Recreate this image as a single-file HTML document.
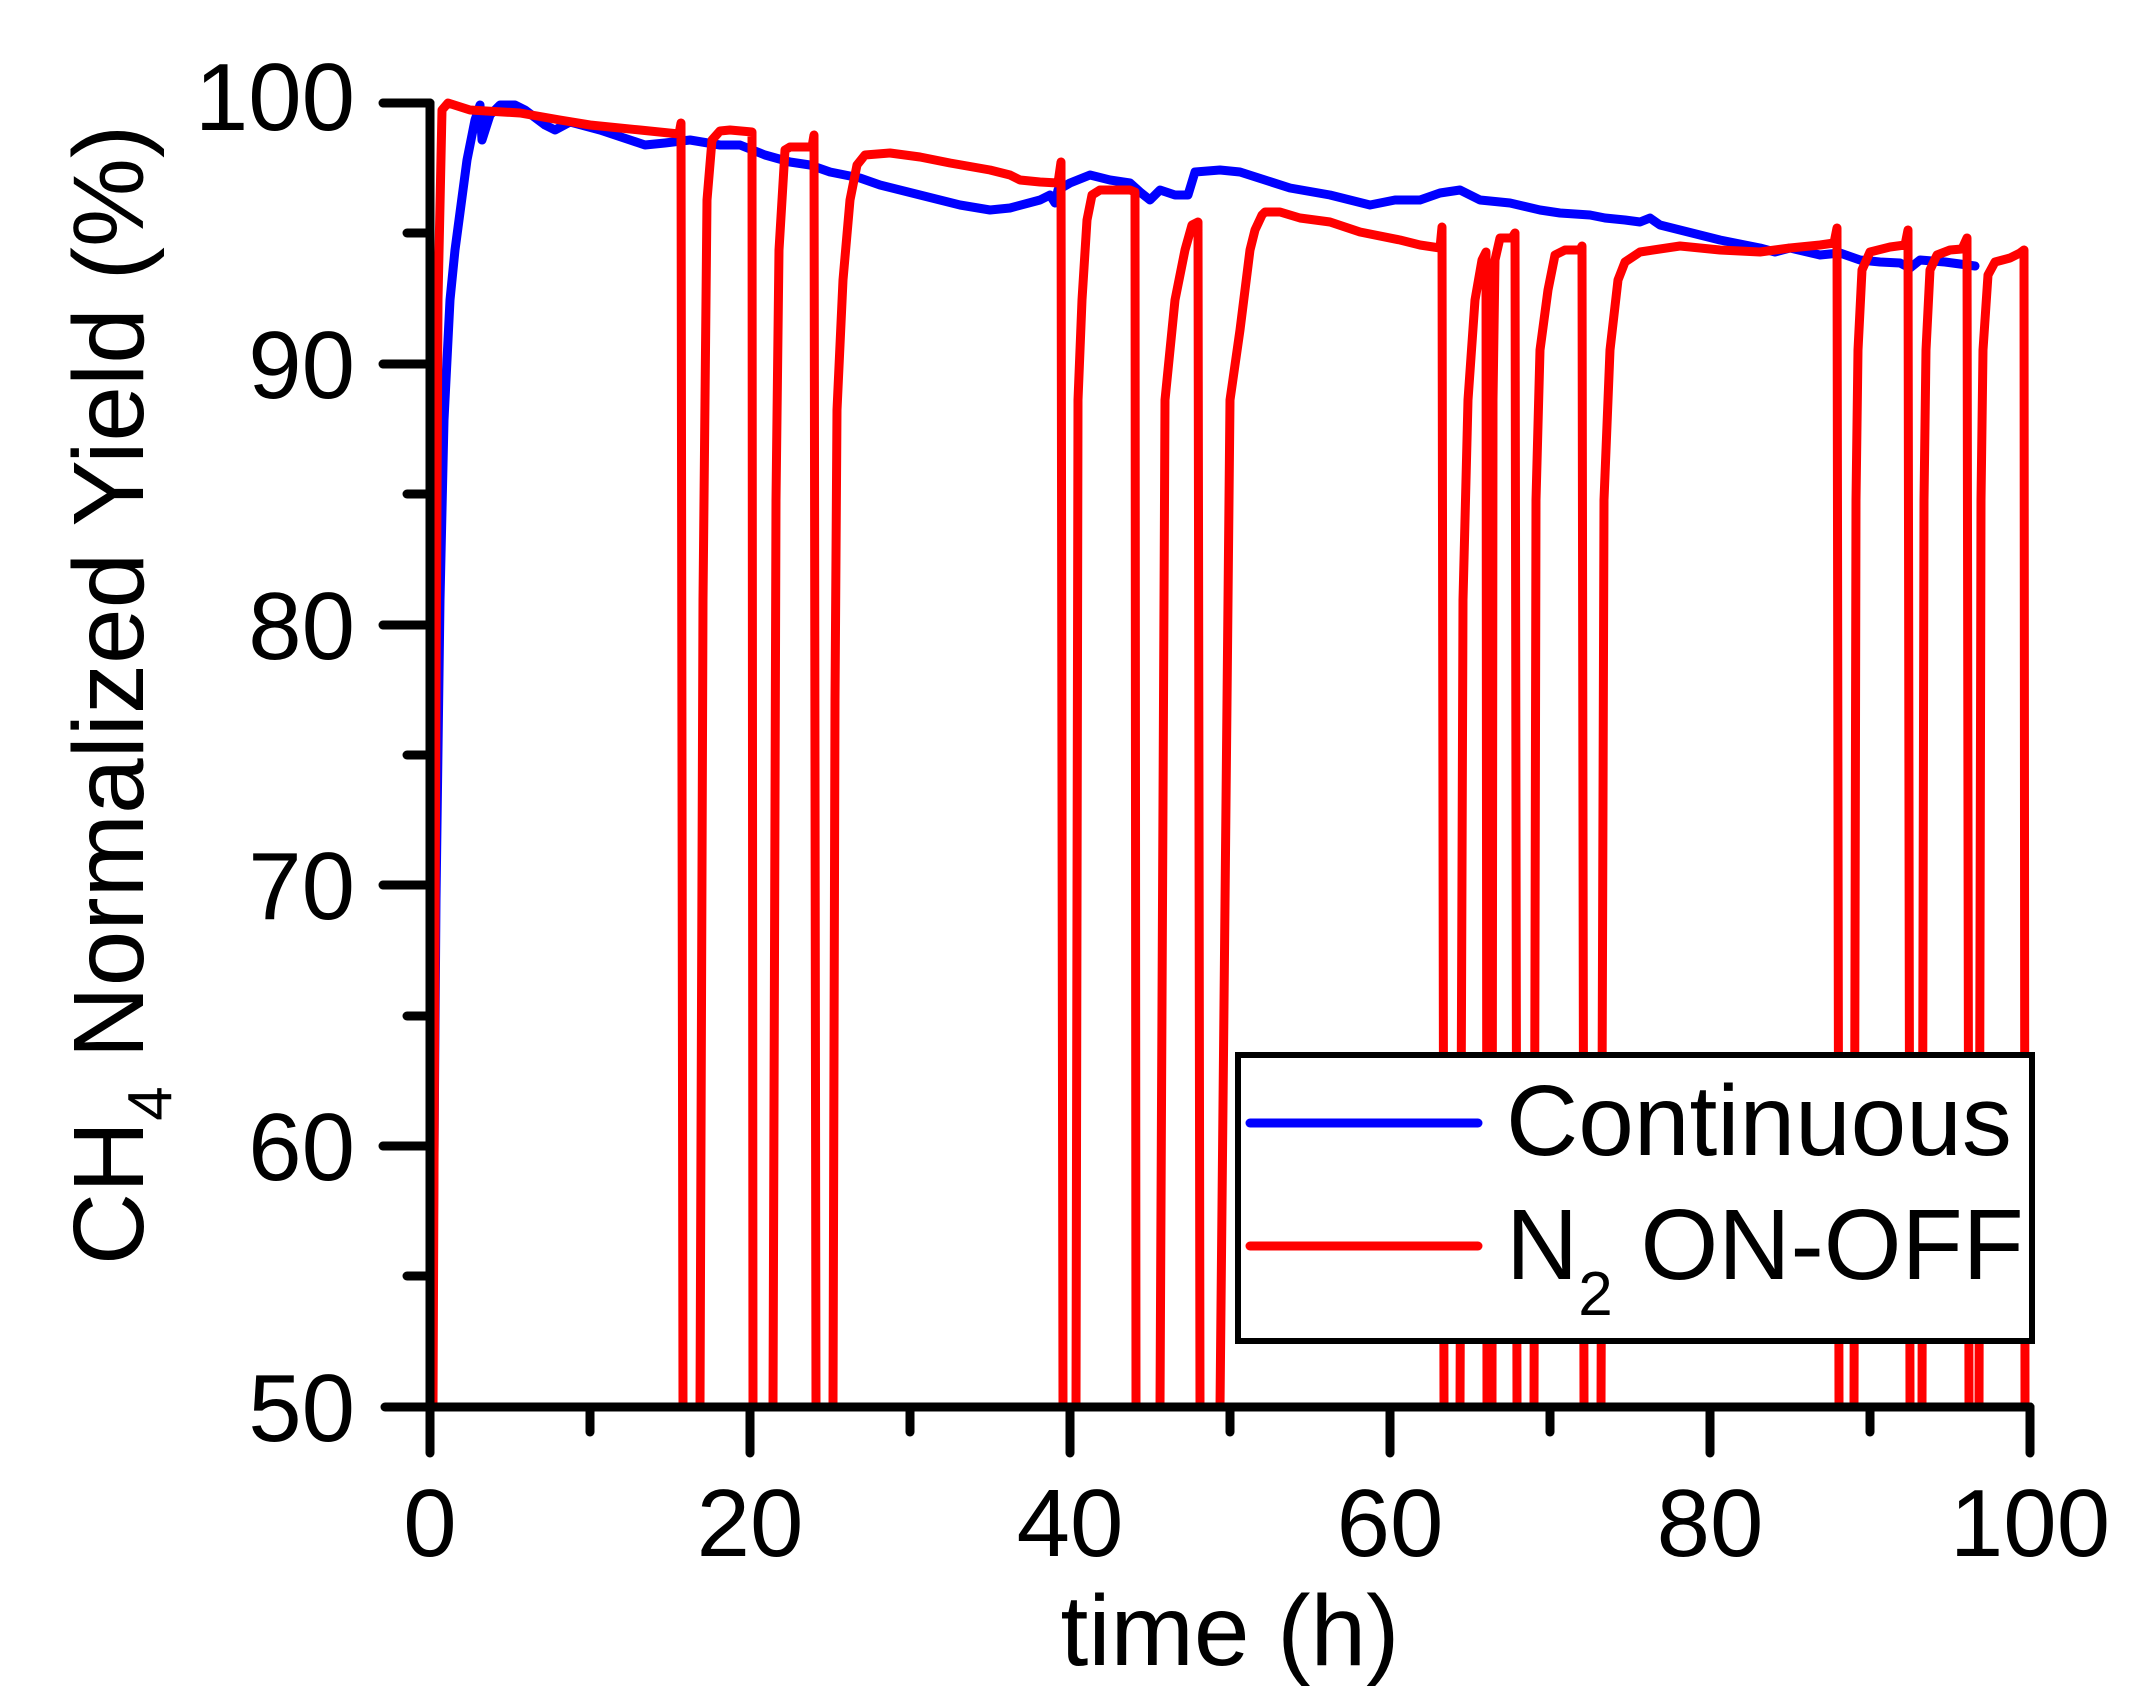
<!DOCTYPE html>
<html><head><meta charset="utf-8"><style>
html,body{margin:0;padding:0;background:#fff;}
svg{display:block;}
text{font-family:"Liberation Sans",Arial,sans-serif;fill:#000;}
</style></head><body>
<svg width="2144" height="1708" viewBox="0 0 2144 1708" xmlns="http://www.w3.org/2000/svg">
<rect width="2144" height="1708" fill="#fff"/>
<!-- blue series -->
<path fill="none" stroke="#0000ff" stroke-width="9" stroke-linejoin="round" stroke-linecap="round"
d="M432,1407 L436,900 L440,600 L444,420 L450,300 L455,250 L467,160 L475,120 L480,105 L482,140 L490,115 L500,105 L515,105 L525,110 L545,125 L555,130 L570,122 L600,130 L630,140 L645,145 L665,143 L690,140 L720,145 L740,145 L765,155 L790,162 L810,165 L830,172 L860,178 L880,185 L920,195 L960,205 L990,210 L1010,208 L1040,200 L1050,195 L1055,203 L1058,190 L1070,183 L1090,175 L1110,180 L1130,183 L1140,192 L1150,200 L1160,190 L1175,195 L1188,195 L1195,172 L1220,170 L1240,172 L1265,180 L1290,188 L1330,195 L1370,205 L1395,200 L1420,200 L1440,193 L1460,190 L1470,195 L1480,200 L1510,203 L1540,210 L1560,213 L1590,215 L1605,218 L1625,220 L1640,222 L1650,218 L1660,225 L1680,230 L1720,240 L1760,248 L1775,252 L1790,248 L1820,255 L1840,253 L1860,260 L1880,262 L1900,263 L1910,268 L1920,260 L1945,262 L1975,266"/>
<!-- red series -->
<path fill="none" stroke="#ff0000" stroke-width="9" stroke-linejoin="round" stroke-linecap="round"
d="M433,1407 L436,700 L438,300 L442,110 L448,103 L470,110 L520,113 L560,120 L590,125 L640,130 L679,134 L681,123 L683,1407
L700,1407 L703,600 L707,200 L712,140 L720,131 L730,130 L752,132 L753,1407
L773,1407 L776,500 L779,250 L785,150 L790,147 L812,147 L814,135 L816,1407
L833,1407 L835,700 L837,410 L843,280 L850,200 L857,165 L865,155 L890,153 L920,157 L950,163 L990,170 L1010,175 L1020,180 L1040,182 L1058,183 L1061,162 L1063,1407
L1076,1407 L1078,400 L1082,300 L1087,220 L1092,195 L1100,190 L1130,190 L1135,192 L1136,1407
L1160,1407 L1165,400 L1175,300 L1185,250 L1192,225 L1198,222 L1200,1407
L1220,1407 L1230,400 L1240,330 L1250,250 L1255,230 L1262,215 L1265,212 L1280,212 L1300,218 L1330,222 L1360,232 L1400,240 L1420,245 L1440,248 L1442,227 L1444,1407
L1460,1407 L1463,600 L1468,400 L1475,300 L1482,260 L1486,252 L1487,1407
L1492,1407 L1493,400 L1495,260 L1500,238 L1512,238 L1515,233 L1517,1407
L1534,1407 L1536,500 L1540,350 L1548,290 L1555,255 L1565,250 L1580,250 L1582,246 L1584,1407
L1601,1407 L1604,500 L1610,350 L1618,280 L1625,262 L1640,252 L1680,246 L1720,250 L1760,252 L1790,248 L1820,245 L1834,243 L1837,228 L1839,1407
L1854,1407 L1856,500 L1858,350 L1862,270 L1870,252 L1890,247 L1905,245 L1908,230 L1910,1407
L1922,1407 L1924,500 L1926,350 L1930,270 L1937,255 L1950,250 L1962,249 L1967,238 L1969,1407
L1979,1407 L1981,500 L1983,350 L1988,275 L1995,262 L2010,258 L2020,253 L2024,250 L2025,1407"/>
<!-- axes -->
<g stroke="#000" stroke-width="9" stroke-linecap="round" fill="none">
<line x1="430" y1="103" x2="430" y2="1407"/>
<line x1="385" y1="1407" x2="2030" y2="1407"/>
<line x1="383" y1="103" x2="430" y2="103"/>
<line x1="383" y1="364" x2="430" y2="364"/>
<line x1="383" y1="625" x2="430" y2="625"/>
<line x1="383" y1="885" x2="430" y2="885"/>
<line x1="383" y1="1146" x2="430" y2="1146"/>
<line x1="407" y1="233" x2="430" y2="233"/>
<line x1="407" y1="494" x2="430" y2="494"/>
<line x1="407" y1="755" x2="430" y2="755"/>
<line x1="407" y1="1016" x2="430" y2="1016"/>
<line x1="407" y1="1276" x2="430" y2="1276"/>
<line x1="430" y1="1407" x2="430" y2="1453"/>
<line x1="750" y1="1407" x2="750" y2="1453"/>
<line x1="1070" y1="1407" x2="1070" y2="1453"/>
<line x1="1390" y1="1407" x2="1390" y2="1453"/>
<line x1="1710" y1="1407" x2="1710" y2="1453"/>
<line x1="2030" y1="1407" x2="2030" y2="1453"/>
<line x1="590" y1="1407" x2="590" y2="1432"/>
<line x1="910" y1="1407" x2="910" y2="1432"/>
<line x1="1230" y1="1407" x2="1230" y2="1432"/>
<line x1="1550" y1="1407" x2="1550" y2="1432"/>
<line x1="1870" y1="1407" x2="1870" y2="1432"/>
</g>
<g font-size="96" text-anchor="end">
<text x="355" y="130">100</text>
<text x="355" y="398">90</text>
<text x="355" y="659">80</text>
<text x="355" y="919">70</text>
<text x="355" y="1180">60</text>
<text x="355" y="1441">50</text>
</g>
<g font-size="96" text-anchor="middle">
<text x="430" y="1556">0</text>
<text x="750" y="1556">20</text>
<text x="1070" y="1556">40</text>
<text x="1390" y="1556">60</text>
<text x="1710" y="1556">80</text>
<text x="2030" y="1556">100</text>
</g>
<text x="1230" y="1665" font-size="100" text-anchor="middle">time (h)</text>
<text transform="translate(143,695) rotate(-90)" font-size="100" text-anchor="middle">CH<tspan font-size="62" dy="28">4</tspan><tspan dy="-28"> Normalized Yield (%)</tspan></text>
<rect x="1238" y="1055" width="794" height="286" fill="#fff" stroke="#000" stroke-width="6"/>
<line x1="1250" y1="1123" x2="1478" y2="1123" stroke="#0000ff" stroke-width="9" stroke-linecap="round"/>
<line x1="1250" y1="1246" x2="1478" y2="1246" stroke="#ff0000" stroke-width="9" stroke-linecap="round"/>
<text x="1506" y="1155" font-size="100">Continuous</text>
<text x="1506" y="1279" font-size="100">N<tspan font-size="62" dy="36">2</tspan><tspan dy="-36"> ON-OFF</tspan></text>
</svg>
</body></html>
